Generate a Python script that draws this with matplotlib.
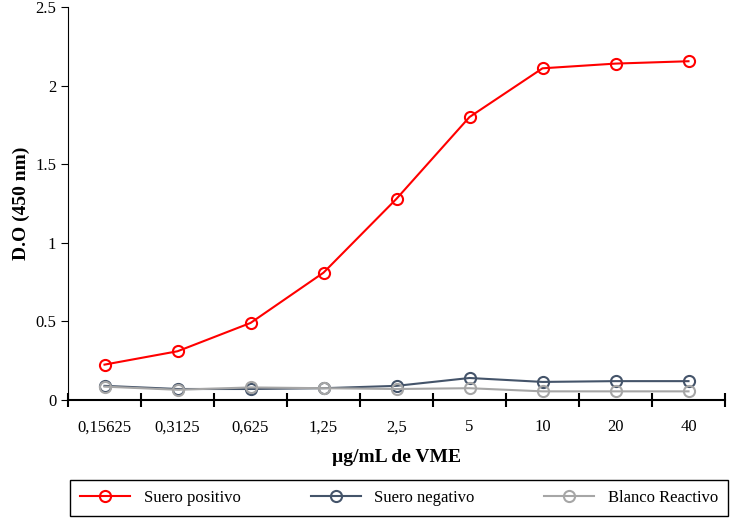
import matplotlib.pyplot as plt

plt.rcParams['font.family'] = ['Liberation Serif', 'DejaVu Serif']

conc = ['0,15625', '0,3125', '0,625', '1,25', '2,5', '5', '10', '20', '40']
positivo = [0.225, 0.31, 0.49, 0.81, 1.28, 1.80, 2.11, 2.14, 2.155]
negativo = [0.09, 0.07, 0.07, 0.075, 0.09, 0.14, 0.115, 0.12, 0.12]
blanco = [0.085, 0.065, 0.08, 0.075, 0.07, 0.075, 0.055, 0.055, 0.055]

fig = plt.figure(figsize=(7.30, 5.27), dpi=100)
ax = fig.add_axes([68/730, 127/527, 657/730, 393/527])
x = range(len(conc))
ax.plot(x, positivo, '-o', color='#ff0000', mfc='none', ms=8, mew=1.5, lw=1.5, label='Suero positivo')
ax.plot(x, negativo, '-o', color='#44546a', mfc='none', ms=8, mew=1.5, lw=1.5, label='Suero negativo')
ax.plot(x, blanco, '-o', color='#a6a6a6', mfc='none', ms=8, mew=1.5, lw=1.5, label='Blanco Reactivo')

ax.set_xlim(-0.5, len(conc) - 0.5)
ax.set_ylim(0, 2.5)
ax.set_yticks([0, 0.5, 1, 1.5, 2, 2.5])
ax.set_yticklabels(['0', '0.5', '1', '1.5', '2', '2.5'])
ax.set_xticks([i - 0.5 for i in range(len(conc) + 1)], minor=False)
ax.set_xticklabels([])
ax.set_xticks(list(x), minor=True)
ax.set_xticklabels(conc, minor=True)
ax.tick_params(axis='x', which='minor', length=0, pad=14)
ax.tick_params(axis='x', which='major', direction='inout', length=10, width=1.5)
ax.tick_params(axis='y', direction='out', length=5)
ax.tick_params(labelsize=12)
ax.tick_params(axis='x', which='minor', labelsize=12)
for s in ['top', 'right']:
    ax.spines[s].set_visible(False)
ax.spines['bottom'].set_linewidth(1.5)
ax.set_xlabel('µg/mL de VME', fontsize=14, fontweight='bold', labelpad=10)
ax.set_ylabel('D.O (450 nm)', fontsize=14, fontweight='bold')

fig.legend(loc='lower left', bbox_to_anchor=(62/730, 3/527), ncol=3, fontsize=12,
           fancybox=False, edgecolor='black', framealpha=1, columnspacing=4.2,
           handlelength=3, borderpad=0.6)
fig.savefig('out.png', dpi=100)
